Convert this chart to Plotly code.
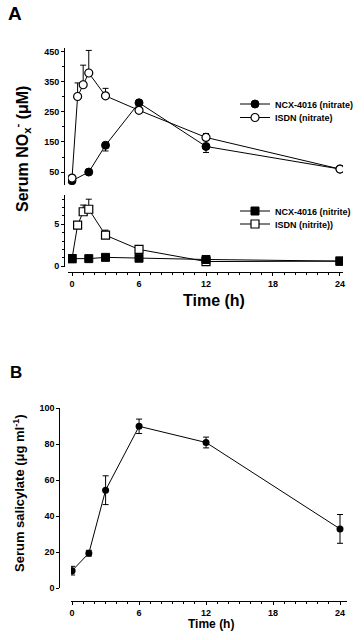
import plotly.graph_objects as go

W, H = 364, 640
def px_x(p): return p / W
def px_y(p): return 1 - p / H

# ---------------- data ----------------
time_nitrate_ncx = [0, 1.5, 3, 6, 12, 24]
ncx_nitrate = [21, 50, 139, 280, 135, 60]
ncx_nitrate_err_minus = [0, 0, 19, 0, 20, 0]

time_isdn = [0, 0.5, 1, 1.5, 3, 6, 12, 24]
isdn_nitrate = [30, 301, 340, 379, 303, 255, 165, 60]
isdn_nitrate_err_plus = [0, 45, 65, 75, 25, 0, 13, 0]

time_nitrite_ncx = [0, 1.5, 3, 6, 12, 24]
ncx_nitrite = [0.9, 0.9, 1.05, 0.95, 0.8, 0.6]

isdn_nitrite = [0.9, 4.9, 6.5, 6.8, 3.7, 2.0, 0.55, 0.6]
isdn_nitrite_err_plus = [0, 0, 0.8, 1.2, 0.6, 0, 0, 0]

time_sal = [0, 1.5, 3, 6, 12, 24]
salicylate = [9.8, 19.5, 54.5, 90, 81, 33]
salicylate_err = [2.4, 1.6, 8, 4, 3, 8]

x_ticks = [0, 6, 12, 18, 24]

FONT = "Liberation Sans"
def bfont(size):
    return dict(family=FONT, size=size, color="black", weight="bold")

fig = go.Figure()
mk_line = dict(color="black", width=1)

# Panel A nitrate
fig.add_trace(go.Scatter(x=time_nitrate_ncx, y=ncx_nitrate, xaxis="x", yaxis="y",
    mode="lines+markers", name="NCX-4016 (nitrate)", line=mk_line,
    marker=dict(symbol="circle", size=8, color="black", line=dict(color="black", width=1)),
    error_y=dict(type="data", symmetric=False, array=[0]*6, arrayminus=ncx_nitrate_err_minus,
                 color="black", thickness=1, width=3),
    legend="legend"))
fig.add_trace(go.Scatter(x=time_isdn, y=isdn_nitrate, xaxis="x", yaxis="y",
    mode="lines+markers", name="ISDN (nitrate)", line=mk_line,
    marker=dict(symbol="circle", size=8, color="white", line=dict(color="black", width=1.2)),
    error_y=dict(type="data", symmetric=False, array=isdn_nitrate_err_plus, arrayminus=[0]*8,
                 color="black", thickness=1, width=3),
    legend="legend2"))

# Panel A nitrite (ISDN first so NCX squares sit on top)
fig.add_trace(go.Scatter(x=time_isdn, y=isdn_nitrite, xaxis="x", yaxis="y2",
    mode="lines+markers", name="ISDN (nitrite))", line=mk_line,
    marker=dict(symbol="square", size=8, color="white", line=dict(color="black", width=1.2)),
    error_y=dict(type="data", symmetric=False, array=isdn_nitrite_err_plus, arrayminus=[0]*8,
                 color="black", thickness=1, width=3),
    legend="legend4"))
fig.add_trace(go.Scatter(x=time_nitrite_ncx, y=ncx_nitrite, xaxis="x", yaxis="y2",
    mode="lines+markers", name="NCX-4016 (nitrite)", line=mk_line,
    marker=dict(symbol="square", size=8, color="black", line=dict(color="black", width=1)),
    legend="legend3"))

# Panel B
fig.add_trace(go.Scatter(x=time_sal, y=salicylate, xaxis="x2", yaxis="y3",
    mode="lines+markers", line=mk_line, showlegend=False,
    marker=dict(symbol="circle", size=7, color="black"),
    error_y=dict(type="data", array=salicylate_err, color="black", thickness=1, width=3)))

axis_common = dict(showline=True, linecolor="black", linewidth=1, ticks="outside",
                   tickcolor="black", ticklen=3, tickwidth=1, showgrid=False, zeroline=False,
                   tickfont=bfont(9))
minor_common = dict(ticks="outside", ticklen=2, tickcolor="black")

def leg(ypix):
    return dict(x=px_x(235), y=px_y(ypix), xanchor="left", yanchor="middle",
                font=bfont(9), itemwidth=30, bgcolor="rgba(0,0,0,0)",
                borderwidth=0)

fig.update_layout(
    width=W, height=H, margin=dict(l=0, r=0, t=0, b=0, pad=0, autoexpand=False),
    paper_bgcolor="white", plot_bgcolor="white",
    xaxis=dict(**axis_common, domain=[px_x(68), px_x(343)], range=[-0.36, 24.27],
               anchor="free", position=px_y(272), tickvals=x_ticks,
               minor=dict(dtick=1, **minor_common)),
    yaxis=dict(**axis_common, domain=[px_y(185), px_y(48)], range=[7, 462],
               anchor="free", position=px_x(64), tickvals=[50, 150, 250, 350, 450],
               minor=dict(dtick=50, **minor_common)),
    yaxis2=dict(**axis_common, domain=[px_y(267), px_y(195)], range=[-0.1, 8.5],
                anchor="free", position=px_x(64), tickvals=[0, 5],
                minor=dict(dtick=1, **minor_common)),
    xaxis2=dict(**axis_common, domain=[px_x(71), px_x(346.7)], range=[-0.1, 24.6],
                anchor="free", position=px_y(601), tickvals=x_ticks,
                minor=dict(dtick=1, **minor_common)),
    yaxis3=dict(**axis_common, domain=[px_y(588.3), px_y(408.3)], range=[0, 100],
                anchor="free", position=px_x(59.3), tickvals=[0, 20, 40, 60, 80, 100]),
    legend=leg(104),
    legend2=leg(117.5),
    legend3=leg(211),
    legend4=leg(224),
    showlegend=True,
)

def add_text(xp, yp, text, size, angle=0):
    fig.add_annotation(xref="paper", yref="paper", x=px_x(xp), y=px_y(yp), text=text,
                       showarrow=False, textangle=angle, font=bfont(size),
                       xanchor="center", yanchor="middle")

add_text(15, 14, "A", 19)
add_text(16, 372, "B", 17)
add_text(22, 149, "Serum NO<sub>x</sub><sup>-</sup> (μM)", 16, -90)
add_text(214, 300, "Time (h)", 16)
add_text(19, 493, "Serum salicylate (μg ml<sup>-1</sup>)", 13, -90)
add_text(211, 624, "Time (h)", 12)

fig.write_html("out.html", config={"displayModeBar": False},
               post_script="document.body.style.margin='0';document.body.style.overflow='hidden';")
